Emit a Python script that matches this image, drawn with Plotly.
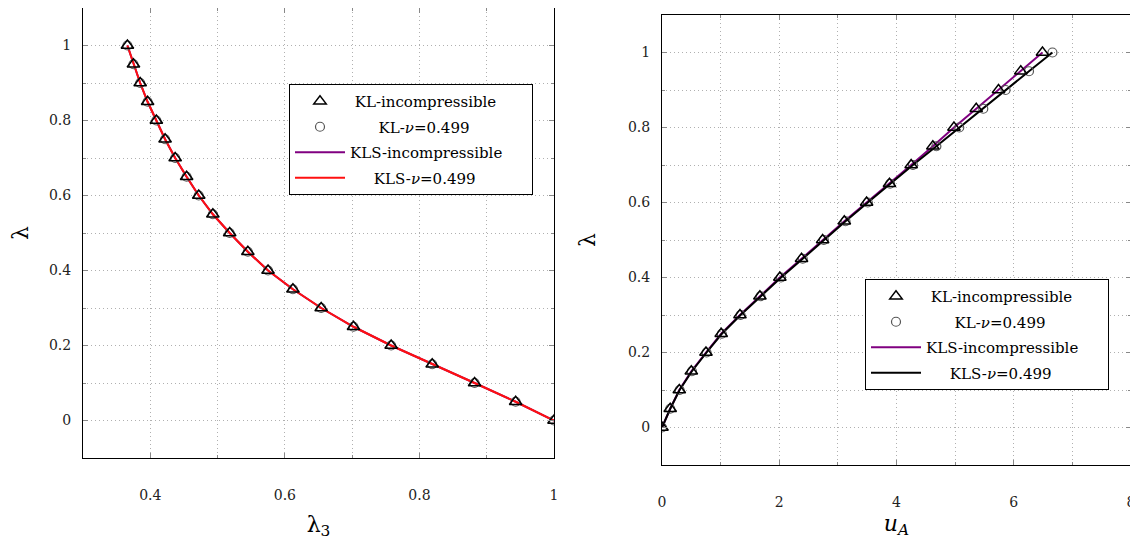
import plotly.graph_objects as go

# ---------------- data ----------------
lam = [0, 0.05, 0.1, 0.15, 0.2, 0.25, 0.3, 0.35, 0.4, 0.45, 0.5,
       0.55, 0.6, 0.65, 0.7, 0.75, 0.8, 0.85, 0.9, 0.95, 1.0]

# left panel: lambda_3 vs lambda
lam3_incomp = [1.0, 0.943, 0.882, 0.819, 0.758, 0.702, 0.654, 0.612, 0.575, 0.545, 0.518,
               0.493, 0.472, 0.454, 0.437, 0.422, 0.409, 0.396, 0.385, 0.375, 0.366]
lam3_nu = [1.0, 0.943, 0.882, 0.819, 0.758, 0.702, 0.654, 0.612, 0.575, 0.545, 0.518,
           0.493, 0.472, 0.454, 0.437, 0.422, 0.409, 0.396, 0.385, 0.375, 0.366]

# right panel: u_A vs lambda
uA_incomp = [0, 0.14, 0.295, 0.50, 0.75, 1.01, 1.33, 1.67, 2.01, 2.38, 2.74,
             3.11, 3.49, 3.88, 4.25, 4.62, 4.98, 5.36, 5.74, 6.12, 6.49]
uA_nu = [0, 0.14, 0.30, 0.51, 0.76, 1.02, 1.34, 1.68, 2.03, 2.40, 2.76,
         3.13, 3.51, 3.89, 4.28, 4.68, 5.07, 5.48, 5.86, 6.26, 6.66]

names = ["KL-incompressible", "KL-<i>ν</i>=0.499", "KLS-incompressible", "KLS-<i>ν</i>=0.499"]

# page is rendered with an 8px body margin -> figure is 8px smaller and offset
OFF = 8
W, H = 1138 - OFF, 545 - OFF
FONT = "DejaVu Serif"
NB = "\u00a0"


def px(x):
    return (x - OFF) / W


def py(y):
    return 1 - (y - OFF) / H


def pad(s, n, trail=0):
    return NB * n + s + NB * trail


fig = go.Figure()

PADS = [1, 6, 0, 5]
TRAIL = [0, 0, 5, 0]


def add_panel(xs_tri, xs_circ, xa, ya, leg, line2_color):
    fig.add_trace(go.Scatter(x=xs_tri, y=lam, mode="lines", name=pad(names[2], PADS[2], TRAIL[2]),
                             line=dict(color="#800080", width=2), xaxis=xa, yaxis=ya,
                             legend=leg, legendrank=3, legendgroup=leg + "c"))
    fig.add_trace(go.Scatter(x=xs_circ, y=lam, mode="lines", name=pad(names[3], PADS[3]),
                             line=dict(color=line2_color, width=2), xaxis=xa, yaxis=ya,
                             legend=leg, legendrank=4, legendgroup=leg + "d"))
    fig.add_trace(go.Scatter(x=xs_circ, y=lam, mode="markers", name=pad(names[1], PADS[1]),
                             marker=dict(symbol="circle-open", size=9, color="#555555",
                                         line=dict(width=1.2)),
                             xaxis=xa, yaxis=ya, legend=leg, legendrank=2, legendgroup=leg + "b"))
    fig.add_trace(go.Scatter(x=xs_tri, y=lam, mode="markers", name=pad(names[0], PADS[0]),
                             marker=dict(symbol="triangle-up-open", size=11, color="black",
                                         line=dict(width=1.4)),
                             xaxis=xa, yaxis=ya, legend=leg, legendrank=1, legendgroup=leg + "a"))


add_panel(lam3_incomp, lam3_nu, "x", "y", "legend", "#ff1010")
add_panel(uA_incomp, uA_nu, "x2", "y2", "legend2", "black")

GRIDC = "#b0b0b0"
DOT = "1px,3px"


def axis(domain, rng, dtick, minor_dtick, title, standoff, tls, anchor):
    return dict(
        domain=domain, range=rng, tickmode="linear", tick0=0, dtick=dtick,
        showgrid=True, gridcolor=GRIDC, griddash=DOT, gridwidth=1,
        showline=True, linecolor="black", linewidth=1, mirror="allticks",
        ticks="inside", ticklen=5, tickcolor="#888888", zeroline=False,
        tickfont=dict(family=FONT, size=14, color="#222222"),
        ticklabeloverflow="allow",
        minor=dict(dtick=minor_dtick, tick0=0, showgrid=True, gridcolor=GRIDC,
                   griddash=DOT, gridwidth=1, ticks="inside", ticklen=3,
                   tickcolor="#888888"),
        title=dict(text=title, font=dict(family=FONT, size=22, color="black"),
                   standoff=standoff),
        ticklabelstandoff=tls, anchor=anchor, automargin=False)


def legend(x, y):
    return dict(x=px(x), y=py(y), xanchor="left", yanchor="top",
                bordercolor="black", borderwidth=1, bgcolor="white", itemwidth=50,
                font=dict(family=FONT, size=15, color="black"), tracegroupgap=3)


fig.update_layout(
    width=W, height=H,
    margin=dict(l=0, r=0, t=0, b=0),
    paper_bgcolor="white", plot_bgcolor="white",
    xaxis=axis([px(83), px(554)], [0.3, 1.0], 0.2, 0.1, "λ<sub>3</sub>", 14, 24, "y"),
    yaxis=axis([py(458), py(8)], [-0.1, 1.1], 0.2, 0.1, "λ", 26, 8, "x"),
    xaxis2=axis([px(662), px(1131)], [0, 8], 2, 1, "<i>u</i><sub><i>A</i></sub>", 6, 24, "y2"),
    yaxis2=axis([py(465), py(15)], [-0.1, 1.1], 0.2, 0.1, "λ", 26, 8, "x2"),
    legend=legend(289, 84),
    legend2=legend(865, 279),
    showlegend=True,
)

fig.write_html("out.html")
